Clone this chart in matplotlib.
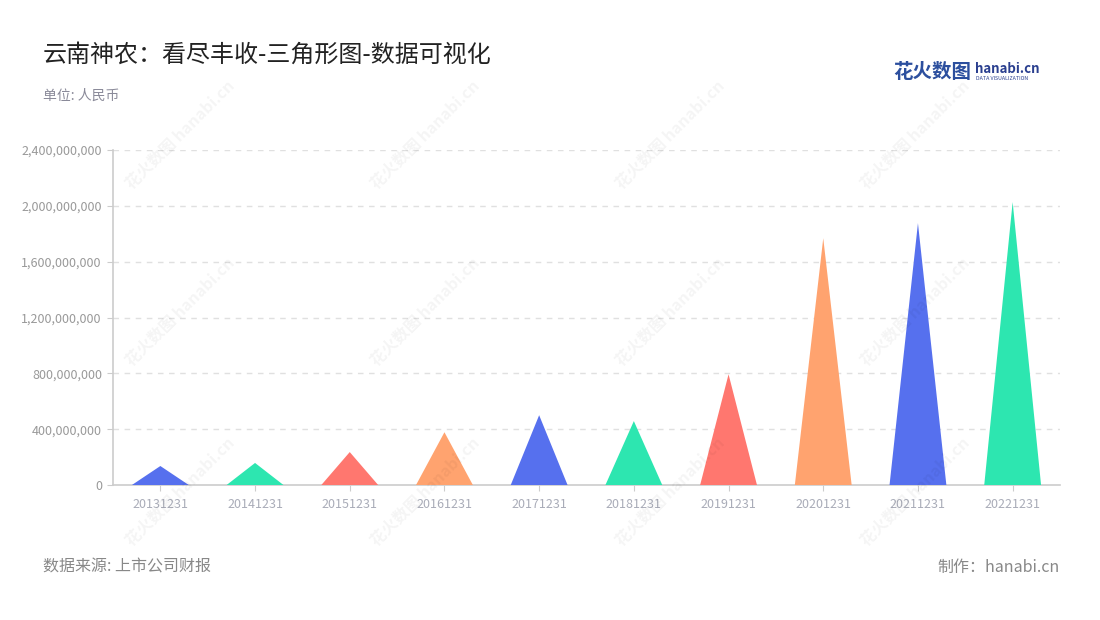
import matplotlib.pyplot as plt

plt.rcParams['font.family'] = ['Noto Sans CJK SC', 'DejaVu Sans']

dates = ['20131231', '20141231', '20151231', '20161231', '20171231',
         '20181231', '20191231', '20201231', '20211231', '20221231']
values = [136e6, 158e6, 236e6, 378e6, 500e6,
          458e6, 793e6, 1768e6, 1876e6, 2027e6]
colors = ['#5670EE', '#2DE6B0', '#FF776F', '#FFA36F', '#5670EE',
          '#2DE6B0', '#FF776F', '#FFA36F', '#5670EE', '#2DE6B0']
yticks = [0, 400e6, 800e6, 1200e6, 1600e6, 2000e6, 2400e6]

fig = plt.figure(figsize=(11, 6.2), dpi=100)
ax = fig.add_axes([113 / 1100, 1 - 485 / 620, 947 / 1100, 335 / 620])

# watermarks
for wx in [180, 425, 670, 915]:
    for wy in [135, 312, 492]:
        fig.text(wx / 1100, 1 - wy / 620, '花火数图 hanabi.cn', fontsize=11.5,
                 color='#000000', alpha=0.045, rotation=45, fontweight='bold',
                 ha='center', va='center', zorder=0)

half = 0.3
for i, v in enumerate(values):
    ax.fill([i - half, i, i + half], [0, v, 0], color=colors[i], lw=0, zorder=3)

ax.set_xlim(-0.5, len(dates) - 0.5)
ax.set_ylim(0, 2400e6)
ax.set_xticks(range(len(dates)))
ax.set_xticklabels(dates)
ax.set_yticks(yticks)
ax.set_yticklabels([f'{int(t):,}' for t in yticks])
ax.tick_params(axis='x', colors='#cccccc', labelcolor='#a9acb8', labelsize=9, length=4, pad=5)
ax.tick_params(axis='y', colors='#cccccc', labelcolor='#999999', labelsize=9, length=4, pad=4)

for t in yticks[1:]:
    ax.axhline(t, color='#e0e0e0', lw=1, ls=(0, (4, 4)), zorder=1)

for s in ['top', 'right']:
    ax.spines[s].set_visible(False)
for s in ['left', 'bottom']:
    ax.spines[s].set_color('#cccccc')
    ax.spines[s].set_linewidth(1.2)

fig.text(43 / 1100, 1 - 55 / 620, '云南神农：看尽丰收-三角形图-数据可视化', fontsize=17.3,
         color='#222222', va='center', ha='left')
fig.text(43 / 1100, 1 - 96 / 620, '单位: 人民币', fontsize=10, color='#8a8a99',
         va='center', ha='left')
fig.text(43 / 1100, 1 - 567 / 620, '数据来源: 上市公司财报', fontsize=11.5, color='#888888',
         va='center', ha='left')
fig.text(1060 / 1100, 1 - 567 / 620, '制作：hanabi.cn', fontsize=11.5, color='#888888',
         va='center', ha='right')

# logo
fig.text(893 / 1100, 1 - 72 / 620, '花火数图', fontsize=14, color='#2c4f9e',
         fontweight='bold', va='center', ha='left')
fig.text(975 / 1100, 1 - 69 / 620, 'hanabi.cn', fontsize=9.5, color='#2a3f8f',
         fontweight='bold', va='center', ha='left')
fig.text(976 / 1100, 1 - 79 / 620, 'DATA VISUALIZATION', fontsize=3.8, color='#2a3f8f',
         va='center', ha='left')

fig.savefig('out.png', dpi=100)
